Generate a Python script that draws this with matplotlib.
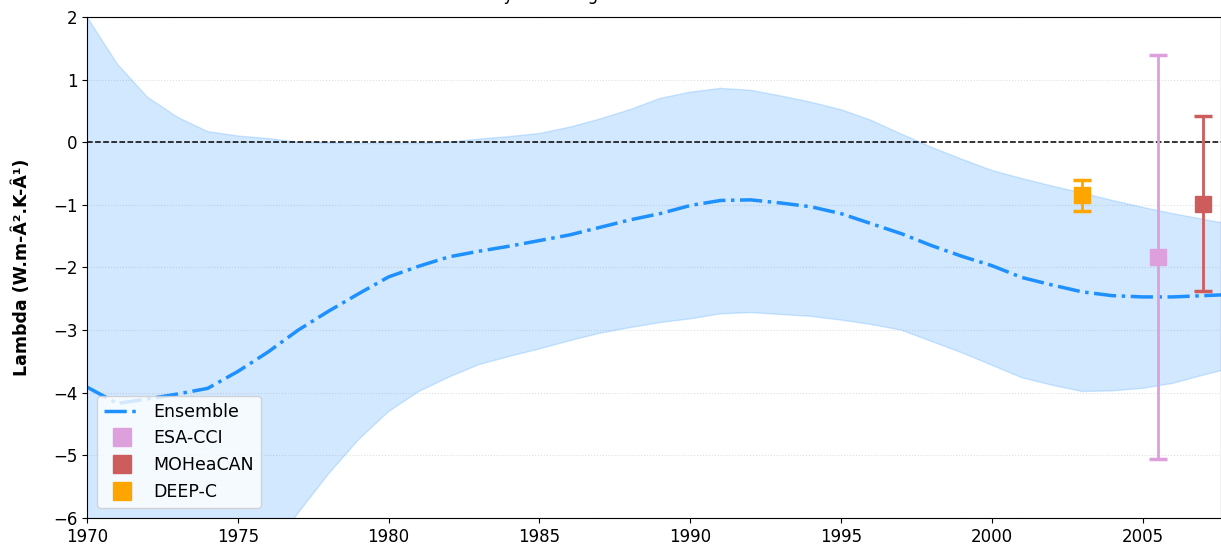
import numpy as np
import matplotlib
matplotlib.use("Agg")
import matplotlib.pyplot as plt
from matplotlib.lines import Line2D

# ensemble mean lambda and spread, one value per year
years = np.arange(1970, 2009)
ens_mean = [-3.91, -4.17, -4.10, -4.02, -3.93, -3.66, -3.35, -3.00, -2.70, -2.42,
            -2.15, -1.98, -1.83, -1.74, -1.66, -1.57, -1.48, -1.36, -1.24, -1.14,
            -1.01, -0.93, -0.92, -0.97, -1.03, -1.14, -1.30, -1.46, -1.65, -1.82,
            -1.97, -2.16, -2.28, -2.39, -2.45, -2.47, -2.47, -2.45, -2.43]
ens_upper = [2.00, 1.25, 0.72, 0.40, 0.17, 0.10, 0.06, 0.00, -0.01, -0.02,
             -0.02, -0.02, 0.00, 0.05, 0.09, 0.14, 0.24, 0.37, 0.52, 0.70,
             0.80, 0.86, 0.83, 0.74, 0.64, 0.52, 0.35, 0.13, -0.08, -0.27,
             -0.45, -0.58, -0.70, -0.81, -0.93, -1.04, -1.14, -1.23, -1.32]
ens_lower = [-10.5, -9.9, -9.2, -8.5, -7.8, -7.2, -6.55, -5.92, -5.30, -4.75,
             -4.30, -3.98, -3.75, -3.55, -3.42, -3.30, -3.17, -3.05, -2.96, -2.88,
             -2.82, -2.74, -2.72, -2.75, -2.78, -2.84, -2.91, -3.00, -3.18, -3.36,
             -3.56, -3.76, -3.88, -3.98, -3.97, -3.93, -3.85, -3.72, -3.60]

# observational estimates
obs_names = ["ESA-CCI", "MOHeaCAN", "DEEP-C"]
obs_year = [2005.5, 2007.0, 2003.0]
obs_val = [-1.83, -0.98, -0.85]
obs_err = [3.23, 1.40, 0.25]
obs_col = ["plum", "indianred", "orange"]

fig = plt.figure(figsize=(12.21, 5.46), dpi=100)
ax = fig.add_axes([0.0713, 0.0513, 0.9287, 0.9176])

ax.fill_between(years, ens_lower, ens_upper, color="dodgerblue", alpha=0.2)
ax.plot(years, ens_mean, color="dodgerblue", linestyle="-.", linewidth=2.5)
ax.axhline(0, color="black", linestyle="--", linewidth=1.1)

for x, v, e, c in zip(obs_year, obs_val, obs_err, obs_col):
    ax.errorbar(x, v, yerr=e, fmt="s", color=c, markersize=11,
                elinewidth=2, capsize=6.5, capthick=2.5)

ax.set_xlim(1970, 2007.6)
ax.set_ylim(-6, 2)
ax.set_xticks(np.arange(1970, 2006, 5))
ax.set_yticks(np.arange(-6, 3, 1))
ax.tick_params(labelsize=12)
ax.grid(axis="y", linestyle=":", color="gray", alpha=0.25)
ax.set_ylabel("Lambda (W.m-Â².K-Â¹)", fontsize=12.5, fontweight="bold", labelpad=16)
ax.set_title("Lambda estimated by linear regression", fontsize=12, pad=12, x=0.36)

handles = [Line2D([], [], color="dodgerblue", linestyle="-.", linewidth=2.5)]
handles += [Line2D([], [], color=c, marker="s", linestyle="none", markersize=13)
            for c in obs_col]
ax.legend(handles, ["Ensemble"] + obs_names, loc="lower left", fontsize=12.5,
          borderaxespad=0.6)

fig.savefig("out.png", dpi=100)
